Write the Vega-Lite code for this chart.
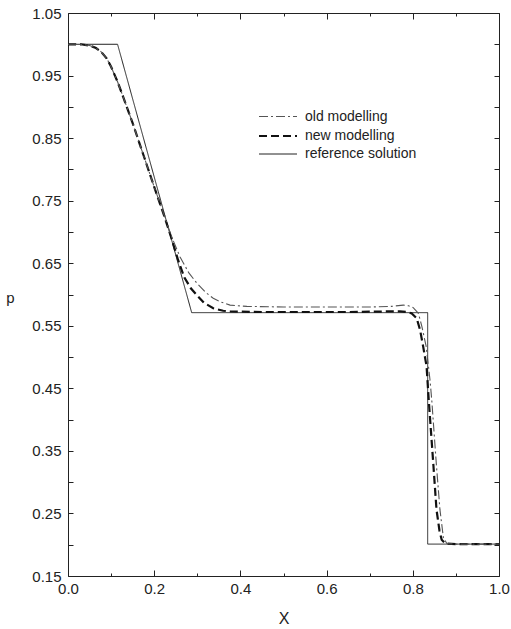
{
  "$schema": "https://vega.github.io/schema/vega-lite/v6.json",
  "width": 431,
  "height": 563,
  "autosize": {"type": "none"},
  "padding": {"left": 68, "top": 13, "right": 12, "bottom": 53},
  "background": "white",
  "config": {
    "font": "Liberation Sans",
    "view": {"stroke": "#222", "strokeWidth": 1},
    "axis": {
      "grid": false,
      "domain": false,
      "tickColor": "#222",
      "tickWidth": 1,
      "labelColor": "#222",
      "labelFontSize": 15,
      "titleColor": "#222",
      "titleFontWeight": "normal"
    }
  },
  "data": {
    "values": [
      {"series": "reference solution", "i": 0, "x": 0.0, "p": 1.0},
      {"series": "reference solution", "i": 1, "x": 0.115, "p": 1.0},
      {"series": "reference solution", "i": 2, "x": 0.287, "p": 0.571},
      {"series": "reference solution", "i": 3, "x": 0.8345, "p": 0.571},
      {"series": "reference solution", "i": 4, "x": 0.8345, "p": 0.201},
      {"series": "reference solution", "i": 5, "x": 1.0, "p": 0.201},

      {"series": "new modelling", "i": 0, "x": 0.0, "p": 1.0},
      {"series": "new modelling", "i": 1, "x": 0.03, "p": 1.0},
      {"series": "new modelling", "i": 2, "x": 0.05, "p": 0.998},
      {"series": "new modelling", "i": 3, "x": 0.065, "p": 0.994},
      {"series": "new modelling", "i": 4, "x": 0.077, "p": 0.988},
      {"series": "new modelling", "i": 5, "x": 0.09, "p": 0.977},
      {"series": "new modelling", "i": 6, "x": 0.1, "p": 0.964},
      {"series": "new modelling", "i": 7, "x": 0.115, "p": 0.94},
      {"series": "new modelling", "i": 8, "x": 0.128, "p": 0.916},
      {"series": "new modelling", "i": 9, "x": 0.15, "p": 0.874},
      {"series": "new modelling", "i": 10, "x": 0.175, "p": 0.823},
      {"series": "new modelling", "i": 11, "x": 0.2, "p": 0.772},
      {"series": "new modelling", "i": 12, "x": 0.225, "p": 0.722},
      {"series": "new modelling", "i": 13, "x": 0.24, "p": 0.69},
      {"series": "new modelling", "i": 14, "x": 0.255, "p": 0.656},
      {"series": "new modelling", "i": 15, "x": 0.27, "p": 0.627},
      {"series": "new modelling", "i": 16, "x": 0.285, "p": 0.61},
      {"series": "new modelling", "i": 17, "x": 0.299, "p": 0.599},
      {"series": "new modelling", "i": 18, "x": 0.315, "p": 0.587},
      {"series": "new modelling", "i": 19, "x": 0.337, "p": 0.578},
      {"series": "new modelling", "i": 20, "x": 0.36, "p": 0.574},
      {"series": "new modelling", "i": 21, "x": 0.376, "p": 0.573},
      {"series": "new modelling", "i": 22, "x": 0.45, "p": 0.572},
      {"series": "new modelling", "i": 23, "x": 0.55, "p": 0.572},
      {"series": "new modelling", "i": 24, "x": 0.65, "p": 0.572},
      {"series": "new modelling", "i": 25, "x": 0.75, "p": 0.573},
      {"series": "new modelling", "i": 26, "x": 0.77, "p": 0.573},
      {"series": "new modelling", "i": 27, "x": 0.785, "p": 0.572},
      {"series": "new modelling", "i": 28, "x": 0.797, "p": 0.57},
      {"series": "new modelling", "i": 29, "x": 0.809, "p": 0.562},
      {"series": "new modelling", "i": 30, "x": 0.817, "p": 0.543},
      {"series": "new modelling", "i": 31, "x": 0.824, "p": 0.517},
      {"series": "new modelling", "i": 32, "x": 0.832, "p": 0.485},
      {"series": "new modelling", "i": 33, "x": 0.837, "p": 0.431},
      {"series": "new modelling", "i": 34, "x": 0.848, "p": 0.325},
      {"series": "new modelling", "i": 35, "x": 0.855, "p": 0.256},
      {"series": "new modelling", "i": 36, "x": 0.862, "p": 0.222},
      {"series": "new modelling", "i": 37, "x": 0.867, "p": 0.208},
      {"series": "new modelling", "i": 38, "x": 0.875, "p": 0.202},
      {"series": "new modelling", "i": 39, "x": 0.9, "p": 0.201},
      {"series": "new modelling", "i": 40, "x": 1.0, "p": 0.201},

      {"series": "old modelling", "i": 0, "x": 0.0, "p": 1.0},
      {"series": "old modelling", "i": 1, "x": 0.03, "p": 1.0},
      {"series": "old modelling", "i": 2, "x": 0.05, "p": 0.998},
      {"series": "old modelling", "i": 3, "x": 0.065, "p": 0.994},
      {"series": "old modelling", "i": 4, "x": 0.077, "p": 0.988},
      {"series": "old modelling", "i": 5, "x": 0.09, "p": 0.977},
      {"series": "old modelling", "i": 6, "x": 0.1, "p": 0.964},
      {"series": "old modelling", "i": 7, "x": 0.115, "p": 0.94},
      {"series": "old modelling", "i": 8, "x": 0.128, "p": 0.916},
      {"series": "old modelling", "i": 9, "x": 0.15, "p": 0.874},
      {"series": "old modelling", "i": 10, "x": 0.175, "p": 0.823},
      {"series": "old modelling", "i": 11, "x": 0.2, "p": 0.772},
      {"series": "old modelling", "i": 12, "x": 0.225, "p": 0.723},
      {"series": "old modelling", "i": 13, "x": 0.24, "p": 0.693},
      {"series": "old modelling", "i": 14, "x": 0.26, "p": 0.66},
      {"series": "old modelling", "i": 15, "x": 0.28, "p": 0.635},
      {"series": "old modelling", "i": 16, "x": 0.299, "p": 0.618},
      {"series": "old modelling", "i": 17, "x": 0.32, "p": 0.603},
      {"series": "old modelling", "i": 18, "x": 0.337, "p": 0.594},
      {"series": "old modelling", "i": 19, "x": 0.355, "p": 0.588},
      {"series": "old modelling", "i": 20, "x": 0.376, "p": 0.583},
      {"series": "old modelling", "i": 21, "x": 0.415, "p": 0.581},
      {"series": "old modelling", "i": 22, "x": 0.5, "p": 0.58},
      {"series": "old modelling", "i": 23, "x": 0.6, "p": 0.58},
      {"series": "old modelling", "i": 24, "x": 0.7, "p": 0.58},
      {"series": "old modelling", "i": 25, "x": 0.75, "p": 0.581},
      {"series": "old modelling", "i": 26, "x": 0.778, "p": 0.583},
      {"series": "old modelling", "i": 27, "x": 0.79, "p": 0.582},
      {"series": "old modelling", "i": 28, "x": 0.801, "p": 0.579},
      {"series": "old modelling", "i": 29, "x": 0.813, "p": 0.57},
      {"series": "old modelling", "i": 30, "x": 0.821, "p": 0.549},
      {"series": "old modelling", "i": 31, "x": 0.831, "p": 0.517},
      {"series": "old modelling", "i": 32, "x": 0.84, "p": 0.463},
      {"series": "old modelling", "i": 33, "x": 0.844, "p": 0.431},
      {"series": "old modelling", "i": 34, "x": 0.855, "p": 0.325},
      {"series": "old modelling", "i": 35, "x": 0.863, "p": 0.256},
      {"series": "old modelling", "i": 36, "x": 0.871, "p": 0.211},
      {"series": "old modelling", "i": 37, "x": 0.879, "p": 0.202},
      {"series": "old modelling", "i": 38, "x": 0.9, "p": 0.201},
      {"series": "old modelling", "i": 39, "x": 1.0, "p": 0.201}
    ]
  },
  "layer": [
    {
      "mark": {"type": "line", "clip": true},
      "encoding": {
        "x": {
          "field": "x",
          "type": "quantitative",
          "scale": {"domain": [0, 1], "nice": false, "zero": false},
          "axis": {
            "orient": "bottom",
            "values": [0, 0.1, 0.2, 0.3, 0.4, 0.5, 0.6, 0.7, 0.8, 0.9, 1.0],
            "labelExpr": "round(datum.value * 10) % 2 == 0 ? format(datum.value, '.1f') : ''",
            "tickSize": {"condition": {"test": "round(datum.value * 10) % 2 == 0", "value": -6}, "value": -3},
            "labelPadding": 11,
            "labelFlush": false,
            "title": "X",
            "titleFontSize": 16,
            "titlePadding": 14
          }
        },
        "y": {
          "field": "p",
          "type": "quantitative",
          "scale": {"domain": [0.15, 1.05], "nice": false, "zero": false},
          "axis": {
            "orient": "left",
            "values": [0.15, 0.2, 0.25, 0.3, 0.35, 0.4, 0.45, 0.5, 0.55, 0.6, 0.65, 0.7, 0.75, 0.8, 0.85, 0.9, 0.95, 1.0, 1.05],
            "labelExpr": "round(datum.value * 100) % 10 == 5 ? format(datum.value, '.2f') : ''",
            "tickSize": -5,
            "labelPadding": 12,
            "labelFlush": false,
            "title": "p",
            "titleAngle": 0,
            "titleFontSize": 15,
            "titleAlign": "center",
            "titleBaseline": "middle",
            "titleX": -58,
            "titleY": 284
          }
        },
        "color": {
          "field": "series",
          "type": "nominal",
          "scale": {
            "domain": ["old modelling", "new modelling", "reference solution"],
            "range": ["#555555", "#111111", "#222222"]
          },
          "legend": {
            "orient": "none",
            "legendX": 199,
            "legendY": 93,
            "title": null,
            "symbolType": "M-2,0H2",
            "symbolSize": 361,
            "labelFontSize": 14,
            "labelColor": "#222",
            "labelOffset": 16,
            "rowPadding": 1,
            "padding": 0
          }
        },
        "strokeDash": {
          "field": "series",
          "type": "nominal",
          "scale": {
            "domain": ["old modelling", "new modelling", "reference solution"],
            "range": [[9, 3, 2, 3], [8, 4], [1, 0]]
          }
        },
        "strokeWidth": {
          "field": "series",
          "type": "nominal",
          "scale": {
            "type": "ordinal",
            "domain": ["old modelling", "new modelling", "reference solution"],
            "range": [1.1, 2.2, 1]
          }
        },
        "order": {"field": "i"}
      }
    },
    {
      "mark": {"type": "point", "opacity": 0},
      "encoding": {
        "x": {
          "field": "x",
          "type": "quantitative",
          "scale": {"domain": [0, 1], "nice": false, "zero": false},
          "axis": {
            "orient": "top",
            "values": [0, 0.1, 0.2, 0.3, 0.4, 0.5, 0.6, 0.7, 0.8, 0.9, 1.0],
            "labels": false,
            "tickSize": {"condition": {"test": "round(datum.value * 10) % 2 == 0", "value": -6}, "value": -3},
            "title": null
          }
        },
        "y": {
          "field": "p",
          "type": "quantitative",
          "scale": {"domain": [0.15, 1.05], "nice": false, "zero": false},
          "axis": {
            "orient": "right",
            "values": [0.15, 0.2, 0.25, 0.3, 0.35, 0.4, 0.45, 0.5, 0.55, 0.6, 0.65, 0.7, 0.75, 0.8, 0.85, 0.9, 0.95, 1.0, 1.05],
            "labels": false,
            "tickSize": -5,
            "title": null
          }
        }
      }
    }
  ],
  "resolve": {
    "scale": {"x": "independent", "y": "independent"},
    "axis": {"x": "independent", "y": "independent"}
  }
}
